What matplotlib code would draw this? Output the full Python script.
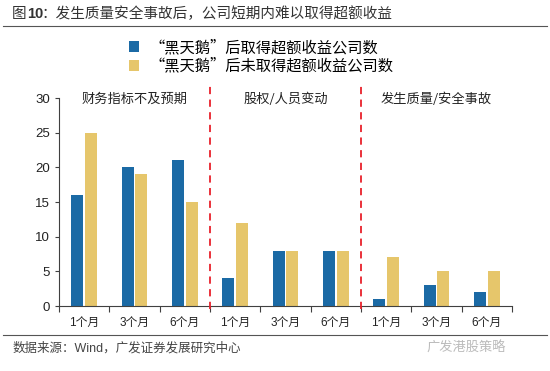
import numpy as np
import matplotlib.pyplot as plt

plt.rcParams['font.family'] = ['Liberation Sans', 'Noto Sans CJK SC', 'DejaVu Sans']

# data
groups = ['财务指标不及预期', '股权/人员变动', '发生质量/安全事故']
periods = ['1个月', '3个月', '6个月']
got_excess = [16, 20, 21, 4, 8, 8, 1, 3, 2]
no_excess = [25, 19, 15, 12, 8, 8, 7, 5, 5]
legend_labels = ['“黑天鹅”后取得超额收益公司数', '“黑天鹅”后未取得超额收益公司数']

blue = '#1B6AA5'
gold = '#E6C66B'

fig = plt.figure(figsize=(5.5, 3.71), dpi=100)
ax = fig.add_axes([0.1073, 0.1752, 0.8237, 0.5606])

x = np.arange(len(got_excess)) + 0.5
w = 0.235
b1 = ax.bar(x - 0.135, got_excess, w, color=blue, label=legend_labels[0])
b2 = ax.bar(x + 0.135, no_excess, w, color=gold, label=legend_labels[1])

ax.set_xlim(0, 9)
ax.set_ylim(0, 30)
ax.set_yticks(range(0, 31, 5))
ax.tick_params(axis='y', labelsize=9.5, length=3, color='#404040', labelcolor='#222222')
ax.set_xticks(range(0, 10))
ax.set_xticklabels([])
ax.set_xticks(x, minor=True)
ax.set_xticklabels(periods * 3, minor=True, fontsize=8.5, color='#222222')
ax.tick_params(axis='x', which='major', length=4, color='#404040')
ax.tick_params(axis='x', which='minor', length=0, pad=8)
for s in ['top', 'right']:
    ax.spines[s].set_visible(False)
ax.spines['left'].set_color('#404040')
ax.spines['bottom'].set_color('#404040')

# dashed separators
for xs in [3, 6]:
    ax.plot([xs, xs], [-0.4, 32.0], color='#E8212B', lw=1.3, ls=(0, (4, 3)), clip_on=False, zorder=3)

# group titles
for i, g in enumerate(groups):
    ax.text(3 * i + 1.5, 29.8, g, ha='center', va='center', fontsize=9.5,
            color='#222222', family=['Noto Sans CJK SC'])

# legend
fig.legend(handles=[b1, b2], labels=legend_labels, loc='center', bbox_to_anchor=(0.475, 0.847),
           frameon=False, handlelength=0.7, handleheight=0.7, handletextpad=0.7,
           labelspacing=0.1, prop={'family': ['Noto Sans CJK SC'], 'size': 11})

# title and footer
fig.text(0.022, 0.962, '图', fontsize=10.5, color='#333333', va='center', family=['Noto Sans CJK SC'])
fig.text(0.049, 0.962, '10', fontsize=10.5, color='#333333', va='center', weight='bold')
fig.text(0.076, 0.962, '：发生质量安全事故后，公司短期内难以取得超额收益', fontsize=10.5, color='#333333',
         va='center', family=['Noto Sans CJK SC'])
fig.add_artist(plt.Line2D([0.005, 0.995], [0.93, 0.93], color='#555555', lw=0.8))
fig.add_artist(plt.Line2D([0.005, 0.995], [0.098, 0.098], color='#555555', lw=0.8))
fig.text(0.022, 0.062, '数据来源：Wind，广发证券发展研究中心', fontsize=9, color='#444444', va='center',
         family=['Liberation Sans', 'Noto Sans CJK SC'])
fig.text(0.92, 0.062, '广发港股策略', fontsize=9.5, color='#BBBBBB', va='center', ha='right',
         family=['Noto Sans CJK SC'])

fig.savefig('out.png', dpi=100)
